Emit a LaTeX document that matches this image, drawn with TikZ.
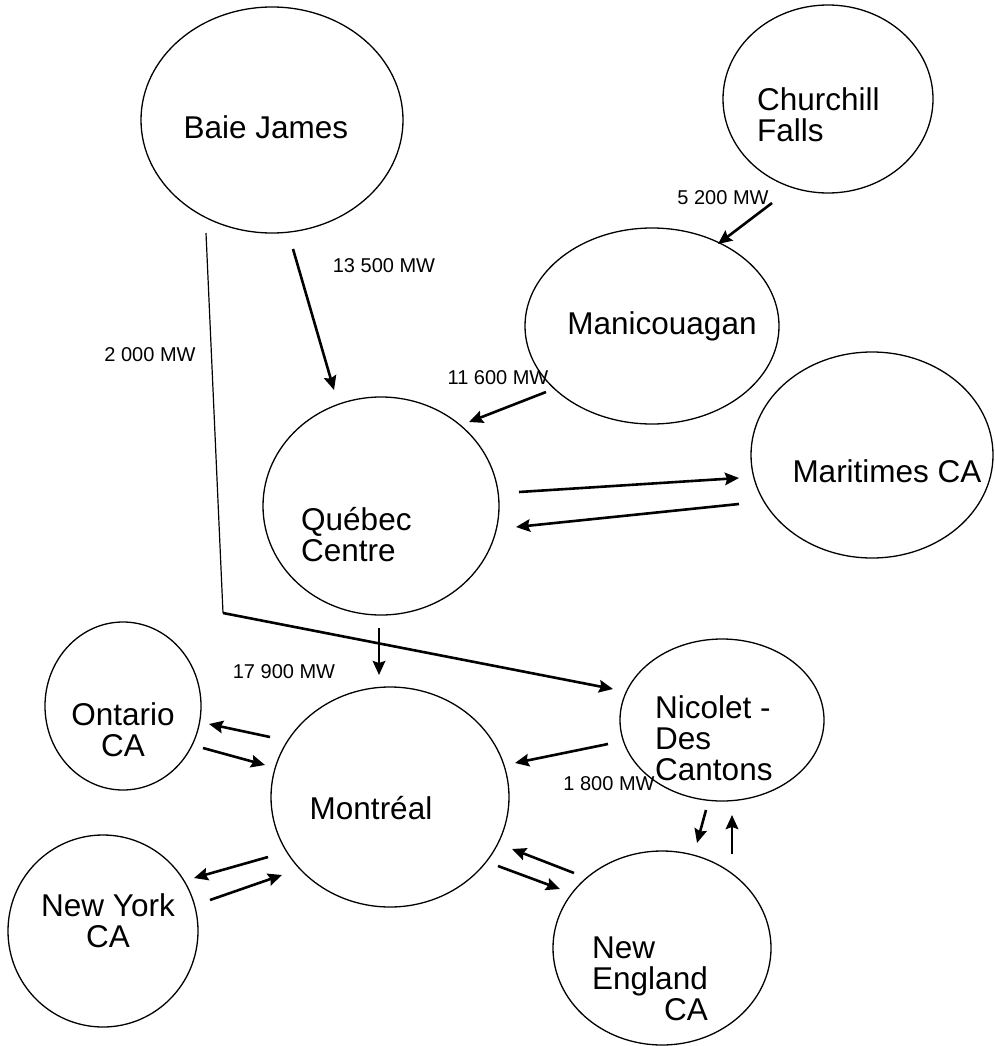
\documentclass[tikz,border=0pt]{standalone}
\usepackage{fontspec}
\setmainfont{Liberation Sans}
\usetikzlibrary{shapes.geometric,arrows.meta,calc}

\tikzset{
  region/.style={draw, ellipse, line width=1.3pt, inner sep=0pt},
  place/.style={inner sep=0pt, font=\fontsize{31.5}{31}\selectfont},
  mw/.style={inner sep=0pt, anchor=base, font=\fontsize{20}{22}\selectfont},
  flow/.style={line width=2.6pt, -{Stealth[length=14pt,width=12.5pt,inset=2pt]}},
  link/.style={line width=1.2pt},
}

\begin{document}
\begin{tikzpicture}[x=1pt,y=-1pt]
        \useasboundingbox (0,0) rectangle (994,1046);

        % Regions
        \node[region, minimum width=262pt, minimum height=226pt] (bj) at (272,120) {};
        \node[region, minimum width=210pt, minimum height=188pt] (cf) at (828,99) {};
        \node[region, minimum width=254pt, minimum height=196pt] (ma) at (652,326) {};
        \node[region, minimum width=242pt, minimum height=206pt] (mt) at (872,455) {};
        \node[region, minimum width=236pt, minimum height=218pt] (qc) at (381,506) {};
        \node[region, minimum width=156pt, minimum height=168pt] (on) at (123,706) {};
        \node[region, minimum width=190pt, minimum height=192pt] (ny) at (103,931) {};
        \node[region, minimum width=238pt, minimum height=220pt] (mo) at (390,797) {};
        \node[region, minimum width=204pt, minimum height=162pt] (ni) at (722,720) {};
        \node[region, minimum width=218pt, minimum height=194pt] (ne) at (662,948) {};

        % Names
        \node[place, anchor=base] (bjname) at (266,139) {Baie James};
        \node[place, anchor=west, align=left] (cfname) at (757,115) {Churchill\\Falls};
        \node[place, anchor=base] (maname) at (662,334) {Manicouagan};
        \node[place, anchor=base] (mtname) at (887,482) {Maritimes CA};
        \node[place, anchor=west, align=left] (qcname) at (301,535) {Québec\\Centre};
        \node[place, align=center] (onname) at (123,730) {Ontario\\CA};
        \node[place, align=center] (nyname) at (108,921) {New York\\CA};
        \node[place, anchor=base] (moname) at (371,819) {Montréal};
        \node[place, anchor=west, align=left] (niname) at (655,738) {Nicolet -\\Des\\Cantons};
        \node[place, anchor=west, align=left] (nename) at (592,979) {New\\England\\\hfill CA};

        % Power
        \node[mw] (bjqc) at (384,272) {13 500 MW};
        \node[mw] (bjni) at (150,361) {2 000 MW};
        \node[mw] (cfma) at (723,204) {5 200 MW};
        \node[mw] (maqc) at (498,384) {11 600 MW};
        \node[mw] (qcmo) at (284,678) {17 900 MW};
        \node[mw] (nimo) at (609,790) {1 800 MW};

        % Flows
        \draw[flow] ($(bj)+(21,129)$) -- ($(qc)+(-47,-116)$);
        \draw[flow] ($(cf)+(-56,104)$) -- ($(ma)+(66,-82)$);
        \draw[flow] ($(ma)+(-106,66)$) -- ($(qc)+(88,-84)$);
        \draw[flow] ($(qc)+(138,-14)$) -- ($(mt)+(-133,23)$);
        \draw[flow] ($(mt)+(-133,49)$) -- ($(qc)+(135,21)$);
        \draw[flow] ($(qc)+(-2,122)$) -- ($(mo)+(-11,-122)$);

        \coordinate (bend) at (223,613);
        \draw[link] ($(bj)+(-66,113)$) -- (bend);
        \draw[flow] (bend) -- ($(ni)+(-109,-31)$);

        \draw[flow] ($(mo)+(-120,-60)$) -- ($(on)+(86,18)$);
        \draw[flow] ($(on)+(80,42)$) -- ($(mo)+(-125,-32)$);
        \draw[flow] ($(ni)+(-114,24)$) -- ($(mo)+(125,-34)$);
        \draw[flow] ($(mo)+(-122,60)$) -- ($(ny)+(91,-53)$);
        \draw[flow] ($(ny)+(107,-31)$) -- ($(mo)+(-108,78)$);
        \draw[flow] ($(ne)+(-88,-75)$) -- ($(mo)+(122,52)$);
        \draw[flow] ($(mo)+(108,69)$) -- ($(ne)+(-102,-59)$);
        \draw[flow] ($(ni)+(-16,90)$) -- ($(ne)+(35,-105)$);
        \draw[flow] ($(ne)+(70,-94)$) -- ($(ni)+(10,95)$);
\end{tikzpicture}
\end{document}
